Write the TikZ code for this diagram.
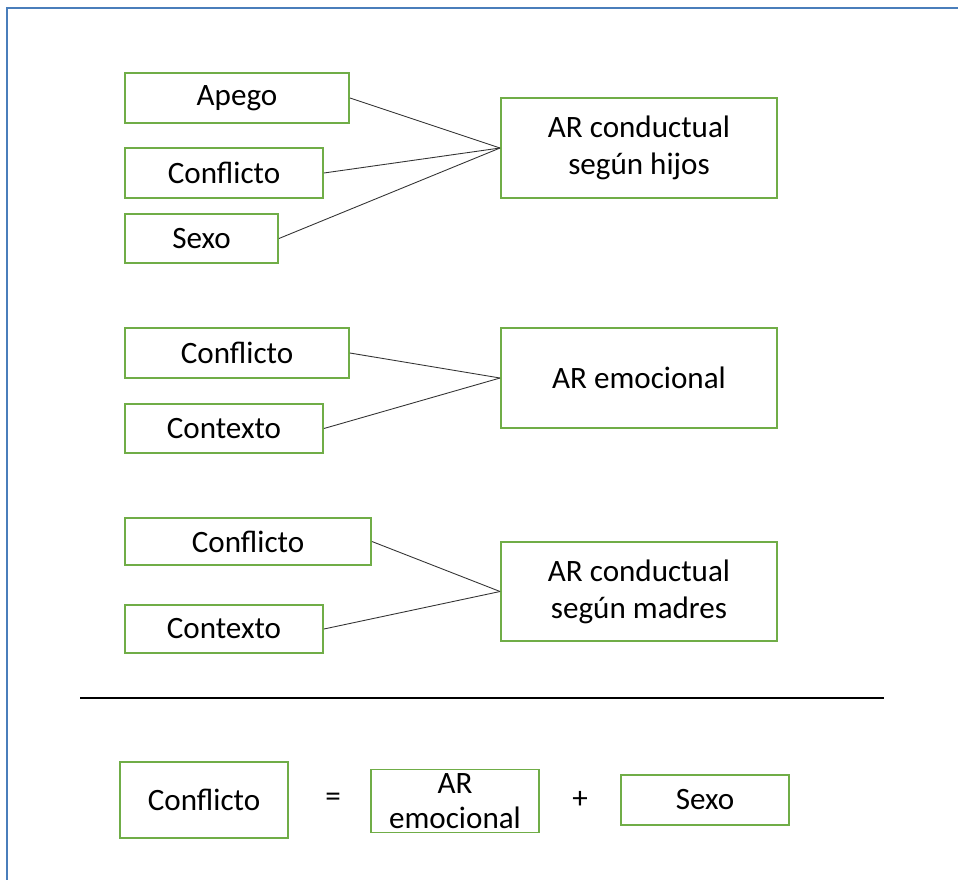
\documentclass[tikz,border=0pt]{standalone}
\usepackage{fontspec}
\setmainfont{Carlito}
\usepackage{tikz}
\definecolor{boxGreen}{HTML}{70AD47}
\definecolor{frameBlue}{HTML}{4A7EBB}

\begin{document}
\begin{tikzpicture}[
  x=0.02cm, y=-0.02cm,
  box/.style={draw=boxGreen, line width=1.1pt, inner sep=0pt, align=center, font=\fontsize{17.7}{21}\selectfont},
  link/.style={draw=black!80, line width=0.5pt},
  sym/.style={font=\fontsize{17.7}{21}\selectfont}
]
\useasboundingbox (0,0) rectangle (958,880);
\draw[frameBlue, line width=1.2pt] (7,880) -- (7,8) -- (958,8);

% AR conductual segun hijos
\node[box, minimum width=4.48cm, minimum height=1cm] (ap) at (237,98) {Apego};
\node[box, minimum width=3.96cm, minimum height=1cm] (c1) at (224,173) {Conflicto};
\node[box, minimum width=3.06cm, minimum height=0.98cm] (sx) at (201.5,238.5) {Sexo};
\node[box, minimum width=5.52cm, minimum height=2cm] (hij) at (639,148) {AR conductual\\según hijos};
\draw[link] (ap.east) -- (hij.west);
\draw[link] (c1.east) -- (hij.west);
\draw[link] (sx.east) -- (hij.west);

% AR emocional
\node[box, minimum width=4.48cm, minimum height=1cm] (c2) at (237,353) {Conflicto};
\node[box, minimum width=3.96cm, minimum height=0.98cm] (ct2) at (224,428.5) {Contexto};
\node[box, minimum width=5.52cm, minimum height=2cm] (emo) at (639,378) {AR emocional};
\draw[link] (c2.east) -- (emo.west);
\draw[link] (ct2.east) -- (emo.west);

% AR conductual segun madres
\node[box, minimum width=4.92cm, minimum height=0.94cm] (c3) at (248,541.5) {Conflicto};
\node[box, minimum width=3.96cm, minimum height=0.96cm] (ct3) at (224,629) {Contexto};
\node[box, minimum width=5.52cm, minimum height=1.98cm] (mad) at (639,591.5) {AR conductual\\según madres};
\draw[link] (c3.east) -- (mad.west);
\draw[link] (ct3.east) -- (mad.west);

\draw[black, line width=0.9pt] (80,698) -- (884,698);

% ecuacion
\node[box, minimum width=3.36cm, minimum height=1.52cm] (bc) at (204,800) {Conflicto};
\node[sym] (eq) at (333,800) {=};
\node[box, minimum width=3.36cm, minimum height=1.26cm, font=\fontsize{17.7}{19.5}\selectfont] (be) at (455,801) {AR\\emocional};
\node[sym] (pl) at (580,800) {+};
\node[box, minimum width=3.36cm, minimum height=1cm] (bs) at (705,800) {Sexo};
\end{tikzpicture}
\end{document}
